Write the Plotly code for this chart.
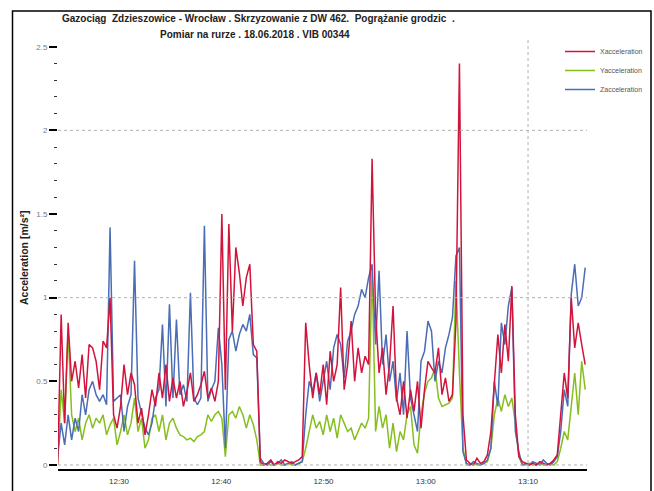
import datetime as dt
import plotly.graph_objects as go

# ---- data ----
START = dt.datetime(2018, 6, 18, 12, 24, 0)
SAMPLE_SECONDS = 20.5

x_acc = [0.0, 0.9, 0.25, 0.85, 0.5, 0.62, 0.46, 0.66, 0.4, 0.72,
         0.7, 0.62, 0.45, 0.74, 0.7, 1.0, 0.3, 0.22, 0.35, 0.6,
         0.42, 0.55, 0.48, 0.25, 0.34, 0.18, 0.3, 0.45, 0.35, 0.55,
         0.4, 0.6, 0.38, 0.52, 0.4, 0.5, 0.35, 0.44, 0.55, 0.38,
         0.42, 0.48, 0.56, 0.4, 0.46, 0.38, 0.5, 1.5, 0.45, 1.44,
         0.8, 1.3, 1.15, 0.95, 1.12, 1.2, 0.72, 0.68, 0.02, 0.0,
         0.01, 0.03, 0.0, 0.02, 0.01, 0.03, 0.02, 0.01, 0.02, 0.03,
         0.05, 0.85, 0.6, 0.4, 0.55, 0.42, 0.6, 0.36, 0.68, 0.5,
         0.6, 1.06, 0.45, 0.6, 0.86, 0.5, 0.7, 0.55, 0.65, 0.6,
         1.83, 0.9, 0.55, 0.7, 0.42, 0.6, 0.95, 0.4, 0.3, 0.5,
         0.28, 0.45, 0.32, 0.5, 0.22, 0.45, 0.62, 0.58, 0.55, 0.7,
         0.42, 0.52, 0.38, 0.42, 0.85, 2.4, 0.3, 0.03, 0.01, 0.0,
         0.04, 0.01, 0.02, 0.06, 0.2, 0.48, 0.78, 0.55, 0.84, 0.62,
         1.07, 0.3, 0.05, 0.02, 0.01, 0.0, 0.01, 0.0, 0.02, 0.01,
         0.0, 0.01, 0.03, 0.06, 0.3, 0.55, 0.4, 1.0, 0.7, 0.85, 0.72, 0.6]

y_acc = [0.02, 0.45, 0.25, 0.8, 0.3, 0.2, 0.28, 0.15, 0.25, 0.3,
         0.22, 0.28, 0.25, 0.3, 0.18, 0.24, 0.28, 0.12, 0.2, 0.3,
         0.18, 0.25, 0.4, 0.2, 0.28, 0.1, 0.15, 0.28, 0.3, 0.2,
         0.3, 0.15, 0.25, 0.28, 0.22, 0.18, 0.17, 0.15, 0.16, 0.14,
         0.17, 0.18, 0.2, 0.3, 0.26, 0.3, 0.32, 0.28, 0.05, 0.3,
         0.32, 0.28, 0.35, 0.3, 0.22, 0.3, 0.24, 0.15, 0.0, 0.0,
         0.01, 0.0, 0.0, 0.01, 0.0, 0.0, 0.01, 0.0, 0.0, 0.01,
         0.02, 0.1, 0.2, 0.3, 0.22, 0.26, 0.18, 0.3, 0.2, 0.28,
         0.16, 0.3, 0.25, 0.2, 0.22, 0.15, 0.2, 0.25, 0.22, 0.28,
         1.18, 0.2, 0.35, 0.22, 0.3, 0.1, 0.25, 0.08, 0.2, 0.15,
         0.3, 0.35, 0.12, 0.07, 0.3, 0.43, 0.5, 0.52, 0.58, 0.4,
         0.35, 0.36, 0.37, 0.4, 1.1, 0.55, 0.1, 0.0, 0.0, 0.01,
         0.0, 0.0, 0.01, 0.02, 0.1, 0.3, 0.4, 0.32, 0.42, 0.35,
         0.4, 0.25, 0.05, 0.0, 0.0, 0.01, 0.0, 0.0, 0.01, 0.0,
         0.0, 0.01, 0.0, 0.02, 0.1, 0.2, 0.15, 0.35, 0.55, 0.3, 0.62, 0.45]

z_acc = [0.05, 0.25, 0.12, 0.3, 0.15, 0.28, 0.2, 0.42, 0.3, 0.45,
         0.5, 0.42, 0.38, 0.42, 0.36, 1.42, 0.38, 0.4, 0.42, 0.2,
         0.35, 0.42, 1.22, 0.4, 0.3, 0.22, 0.18, 0.25, 0.4, 0.45,
         0.84, 0.35, 0.96, 0.4, 0.87, 0.42, 0.48, 0.38, 1.03, 0.4,
         0.36, 0.4, 1.43, 0.38, 0.45, 0.5, 0.82, 0.6, 0.1, 0.75,
         0.8, 0.68, 0.78, 0.84, 0.8, 0.9, 0.66, 0.64, 0.04, 0.01,
         0.0, 0.02, 0.0, 0.01, 0.03, 0.0, 0.01, 0.02, 0.0, 0.01,
         0.02, 0.3, 0.5, 0.44, 0.55, 0.38, 0.5, 0.62, 0.45, 0.7,
         0.78, 0.72, 0.52, 0.74, 0.8, 0.9, 0.95, 1.05, 1.0, 1.12,
         1.2, 0.72, 1.16, 0.6, 0.78, 0.5, 0.62, 0.38, 0.55, 0.3,
         0.8, 0.4, 0.3, 0.2, 0.62, 0.68, 0.86, 0.8, 0.5, 0.62,
         0.55, 0.7, 0.78, 0.88, 1.25, 1.3, 0.08, 0.01, 0.0, 0.02,
         0.01, 0.0, 0.01, 0.03, 0.1, 0.5, 0.35, 0.85, 0.72, 0.95,
         1.06, 0.2, 0.08, 0.0, 0.01, 0.0, 0.02, 0.01, 0.0, 0.03,
         0.01, 0.0, 0.02, 0.05, 0.2, 0.45, 0.35, 1.02, 1.2, 0.95, 1.0, 1.18]

y_tick_vals = [0, 0.5, 1, 1.5, 2, 2.5]
y_tick_text = ["0", "0.5", "1", "1.5", "2", "2.5"]
grid_levels = [0, 1, 2]
grid_time = dt.datetime(2018, 6, 18, 13, 10, 0)

times = [START + dt.timedelta(seconds=SAMPLE_SECONDS * i) for i in range(len(x_acc))]

RED = "#d2143c"
GREEN = "#86bf1d"
BLUE = "#4a6db5"

fig = go.Figure()
fig.add_trace(go.Scatter(x=times, y=y_acc, mode="lines", name="Yacceleration",
                         line=dict(color=GREEN, width=1.5), legendrank=2))
fig.add_trace(go.Scatter(x=times, y=z_acc, mode="lines", name="Zacceleration",
                         line=dict(color=BLUE, width=1.5), legendrank=3))
fig.add_trace(go.Scatter(x=times, y=x_acc, mode="lines", name="Xacceleration",
                         line=dict(color=RED, width=1.5), legendrank=1))

L, R, T, B = 58, 67, 40, 22
W, H = 654, 491
pw, ph = W - L - R, H - T - B


def px_x(p):
    return (p - L) / pw


def px_y(p):
    return (H - B - p) / ph


FONT = "Liberation Sans, Arial, sans-serif"

shapes = []
for lv in grid_levels:
    shapes.append(dict(type="line", xref="paper", yref="y", x0=0, x1=1, y0=lv, y1=lv,
                       line=dict(color="#b0b0b0", width=1, dash="dot")))
shapes.append(dict(type="line", xref="x", yref="paper", x0=grid_time, x1=grid_time, y0=0, y1=1,
                   line=dict(color="#b0b0b0", width=1, dash="dot")))
# outer frame
shapes.append(dict(type="rect", xref="paper", yref="paper",
                   x0=px_x(12.5), x1=px_x(651), y0=px_y(496), y1=px_y(11),
                   line=dict(color="black", width=1.5), layer="above"))

fig.update_layout(
    width=W, height=H,
    margin=dict(l=L, r=R, t=T, b=B, autoexpand=False),
    paper_bgcolor="white", plot_bgcolor="white",
    font=dict(family=FONT, size=8, color="#444"),
    showlegend=True,
    legend=dict(x=px_x(560), y=px_y(37), xanchor="left", yanchor="top",
                font=dict(size=7, color="#555"), itemwidth=30,
                bgcolor="rgba(0,0,0,0)", tracegroupgap=0),
    shapes=shapes,
    annotations=[
        dict(text="<b>Gazociąg  Zdzieszowice - Wrocław . Skrzyzowanie z DW 462.  Pogrążanie grodzic  .</b>",
             xref="paper", yref="paper", x=px_x(258), y=px_y(19),
             xanchor="center", yanchor="middle", showarrow=False,
             font=dict(family=FONT, size=10, color="#222")),
        dict(text="<b>Pomiar na rurze . 18.06.2018 . VIB 00344</b>",
             xref="paper", yref="paper", x=px_x(255), y=px_y(34),
             xanchor="center", yanchor="middle", showarrow=False,
             font=dict(family=FONT, size=10, color="#222")),
        dict(text="<b>Acceleration [m/s²]</b>", textangle=-90,
             xref="paper", yref="paper", x=px_x(24), y=px_y(258),
             xanchor="center", yanchor="middle", showarrow=False,
             font=dict(family=FONT, size=10.5, color="#222")),
    ],
    xaxis=dict(
        type="date",
        range=[dt.datetime(2018, 6, 18, 12, 24, 2), dt.datetime(2018, 6, 18, 13, 15, 46)],
        dtick=600000, tick0=dt.datetime(2018, 6, 18, 12, 0, 0), tickformat="%H:%M",
        showgrid=False, zeroline=False, showline=True, linecolor="black", linewidth=2,
        ticks="", ticklabelstandoff=3, tickfont=dict(size=8, color="#333"),
    ),
    yaxis=dict(
        range=[-0.024, 2.54], tickvals=y_tick_vals, ticktext=y_tick_text,
        showgrid=False, zeroline=False, showline=False,
        ticks="outside", ticklen=8, tickcolor="black", tickwidth=1.5,
        minor=dict(dtick=0.1, ticks="outside", ticklen=3, tickcolor="#333", tickwidth=1),
        tickfont=dict(size=8, color="#777"),
    ),
)

fig.write_html("out.html")
